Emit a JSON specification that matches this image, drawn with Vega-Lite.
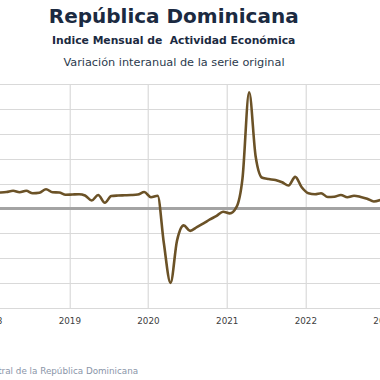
{
  "$schema": "https://vega.github.io/schema/vega-lite/v6.json",
  "width": 406,
  "height": 224,
  "autosize": {"type": "none"},
  "padding": {"left": -9.3, "top": 84, "right": 0, "bottom": 72},
  "background": "white",
  "title": {
    "text": "República Dominicana",
    "subtitle": "Indice Mensual de\u00a0 Actividad Económica",
    "anchor": "middle",
    "dx": -20,
    "font": "DejaVu Sans",
    "fontSize": 20,
    "fontWeight": "bold",
    "color": "#1b2a41",
    "subtitleFont": "DejaVu Sans",
    "subtitleFontSize": 10.8,
    "subtitleFontWeight": "bold",
    "subtitleColor": "#1b2a41",
    "subtitlePadding": 8,
    "offset": 10
  },
  "data": {
    "values": [
      {"date": "2018-01-15", "v": 6.3},
      {"date": "2018-02-15", "v": 6.4},
      {"date": "2018-03-15", "v": 6.6},
      {"date": "2018-04-15", "v": 7.1},
      {"date": "2018-05-15", "v": 6.5},
      {"date": "2018-06-15", "v": 7.1},
      {"date": "2018-07-15", "v": 6.1},
      {"date": "2018-08-15", "v": 6.3},
      {"date": "2018-09-15", "v": 7.7},
      {"date": "2018-10-15", "v": 6.5},
      {"date": "2018-11-15", "v": 6.4},
      {"date": "2018-12-15", "v": 5.5},
      {"date": "2019-01-15", "v": 5.6},
      {"date": "2019-02-15", "v": 5.7},
      {"date": "2019-03-15", "v": 5.2},
      {"date": "2019-04-15", "v": 3.2},
      {"date": "2019-05-15", "v": 5.4},
      {"date": "2019-06-15", "v": 2.3},
      {"date": "2019-07-15", "v": 5.0},
      {"date": "2019-08-15", "v": 5.2},
      {"date": "2019-09-15", "v": 5.3},
      {"date": "2019-10-15", "v": 5.4},
      {"date": "2019-11-15", "v": 5.6},
      {"date": "2019-12-15", "v": 6.6},
      {"date": "2020-01-15", "v": 4.5},
      {"date": "2020-02-15", "v": 5.1},
      {"date": "2020-03-15", "v": -14.0},
      {"date": "2020-04-15", "v": -29.9},
      {"date": "2020-05-15", "v": -13.0},
      {"date": "2020-06-15", "v": -6.8},
      {"date": "2020-07-15", "v": -9.0},
      {"date": "2020-08-15", "v": -7.5},
      {"date": "2020-09-15", "v": -6.0},
      {"date": "2020-10-15", "v": -4.4},
      {"date": "2020-11-15", "v": -3.0},
      {"date": "2020-12-15", "v": -1.3},
      {"date": "2021-01-15", "v": -2.0},
      {"date": "2021-02-15", "v": 0.5},
      {"date": "2021-03-15", "v": 12.0},
      {"date": "2021-04-15", "v": 46.7},
      {"date": "2021-05-15", "v": 21.0},
      {"date": "2021-06-15", "v": 12.3},
      {"date": "2021-07-15", "v": 11.8},
      {"date": "2021-08-15", "v": 11.4},
      {"date": "2021-09-15", "v": 10.5},
      {"date": "2021-10-15", "v": 9.2},
      {"date": "2021-11-15", "v": 12.7},
      {"date": "2021-12-15", "v": 8.5},
      {"date": "2022-01-15", "v": 6.1},
      {"date": "2022-02-15", "v": 5.7},
      {"date": "2022-03-15", "v": 6.1},
      {"date": "2022-04-15", "v": 4.6},
      {"date": "2022-05-15", "v": 4.7},
      {"date": "2022-06-15", "v": 5.4},
      {"date": "2022-07-15", "v": 4.5},
      {"date": "2022-08-15", "v": 5.1},
      {"date": "2022-09-15", "v": 4.6},
      {"date": "2022-10-15", "v": 3.9},
      {"date": "2022-11-15", "v": 2.8},
      {"date": "2022-12-15", "v": 3.4}
    ]
  },
  "layer": [
    {
      "mark": {"type": "rule", "color": "#a3a3a3", "strokeWidth": 1.5},
      "encoding": {
        "y": {
          "datum": 0,
          "type": "quantitative",
          "scale": {"domain": [-40, 50], "nice": false, "zero": false},
          "axis": {
            "values": [-40, -30, -20, -10, 0, 10, 20, 30, 40, 50],
            "labels": false,
            "ticks": false,
            "domain": false,
            "grid": true,
            "gridColor": "#d9d9d9",
            "gridWidth": 1,
            "title": null
          }
        }
      }
    },
    {
      "mark": {"type": "line", "interpolate": "monotone", "color": "#6b5227", "strokeWidth": 2.6, "clip": true},
      "encoding": {
        "x": {
          "field": "date",
          "type": "temporal",
          "scale": {
            "type": "utc",
            "domain": [
              {"year": 2018, "month": 1, "date": 1, "utc": true},
              {"year": 2023, "month": 3, "date": 1, "utc": true}
            ]
          },
          "axis": {
            "orient": "bottom",
            "tickCount": {"interval": "year", "step": 1},
            "format": "%Y",
            "ticks": false,
            "domain": false,
            "grid": true,
            "gridColor": "#d2d2d2",
            "gridWidth": 1,
            "labelFlush": false,
            "labelOverlap": false,
            "labelFont": "DejaVu Sans",
            "labelFontSize": 8.8,
            "labelColor": "#404040",
            "labelPadding": 9,
            "labelDx": 3,
            "title": "Fuente: Banco Central de la República Dominicana",
            "titleFont": "DejaVu Sans",
            "titleFontSize": 8.8,
            "titleFontWeight": "normal",
            "titleColor": "#8a95a8",
            "titleAlign": "right",
            "titleBaseline": "middle",
            "titleX": 147,
            "titleY": 63
          }
        },
        "y": {
          "field": "v",
          "type": "quantitative",
          "scale": {"domain": [-40, 50], "nice": false, "zero": false},
          "axis": {
            "values": [-40, -30, -20, -10, 0, 10, 20, 30, 40, 50],
            "labels": false,
            "ticks": false,
            "domain": false,
            "grid": true,
            "gridColor": "#d9d9d9",
            "gridWidth": 1,
            "title": null
          }
        }
      }
    },
    {
      "mark": {"type": "line", "opacity": 0},
      "encoding": {
        "x": {
          "field": "date",
          "type": "temporal",
          "axis": {
            "orient": "top",
            "labels": false,
            "ticks": false,
            "domain": false,
            "grid": false,
            "title": "Variación interanual de la serie original",
            "titleFont": "DejaVu Sans",
            "titleFontSize": 11.3,
            "titleFontWeight": "normal",
            "titleColor": "#2b3a4d",
            "titleAlign": "center",
            "titleBaseline": "middle",
            "titleX": 182.8,
            "titleY": -22
          }
        },
        "y": {
          "field": "v",
          "type": "quantitative",
          "scale": {"domain": [-40, 50], "nice": false, "zero": false},
          "axis": {
            "values": [-40, -30, -20, -10, 0, 10, 20, 30, 40, 50],
            "labels": false,
            "ticks": false,
            "domain": false,
            "grid": true,
            "gridColor": "#d9d9d9",
            "gridWidth": 1,
            "title": null
          }
        }
      }
    }
  ],
  "resolve": {"axis": {"x": "independent"}},
  "config": {"view": {"stroke": null}}
}
